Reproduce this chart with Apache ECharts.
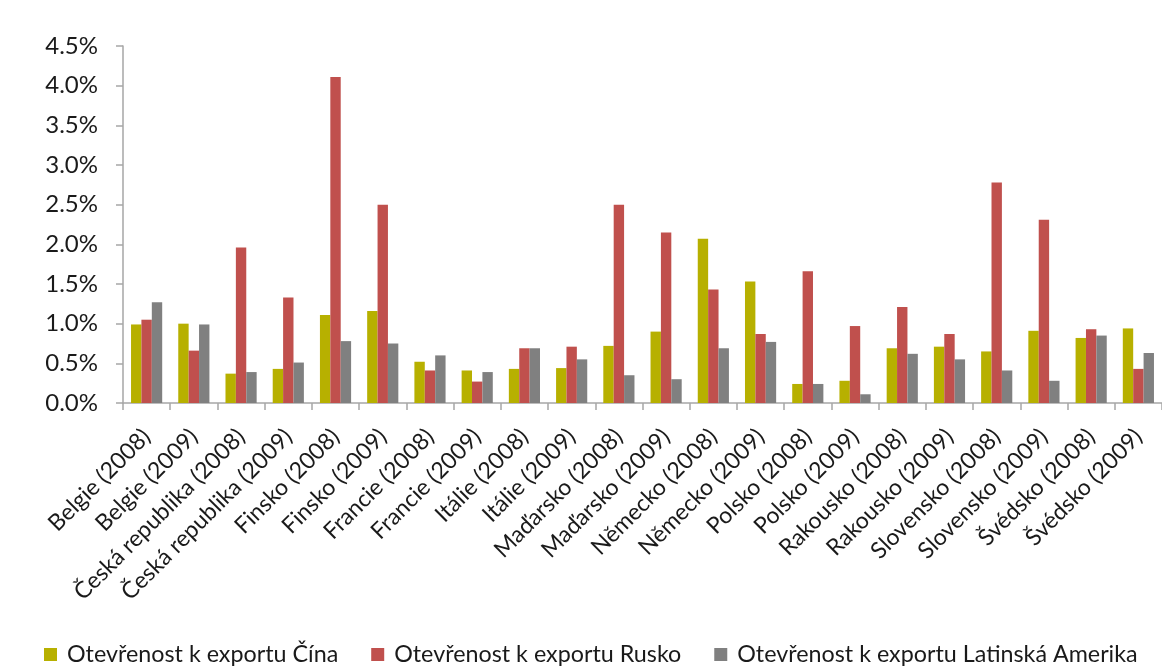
<!DOCTYPE html>
<html>
<head>
<meta charset="utf-8">
<script src="https://cdn.jsdelivr.net/npm/echarts@6/dist/echarts.min.js"></script>
<style>
  html, body { margin: 0; padding: 0; background: #ffffff; }
  #chart { width: 1162px; height: 670px; }
</style>
</head>
<body>
<div id="chart"></div>
<script>
// Export openness by country and year (percent)
const categories = [
  'Belgie (2008)', 'Belgie (2009)',
  'Česká republika (2008)', 'Česká republika (2009)',
  'Finsko (2008)', 'Finsko (2009)',
  'Francie (2008)', 'Francie (2009)',
  'Itálie (2008)', 'Itálie (2009)',
  'Maďarsko (2008)', 'Maďarsko (2009)',
  'Německo (2008)', 'Německo (2009)',
  'Polsko (2008)', 'Polsko (2009)',
  'Rakousko (2008)', 'Rakousko (2009)',
  'Slovensko (2008)', 'Slovensko (2009)',
  'Švédsko (2008)', 'Švédsko (2009)'
];

const seriesNames = [
  'Otevřenost k exportu Čína',
  'Otevřenost k exportu Rusko',
  'Otevřenost k exportu Latinská Amerika'
];

const chinaValues = [0.99, 1.00, 0.37, 0.43, 1.11, 1.16, 0.52, 0.41, 0.43, 0.44, 0.72,
                     0.90, 2.07, 1.53, 0.24, 0.28, 0.69, 0.71, 0.65, 0.91, 0.82, 0.94];
const russiaValues = [1.05, 0.66, 1.96, 1.33, 4.11, 2.50, 0.41, 0.27, 0.69, 0.71, 2.50,
                      2.15, 1.43, 0.87, 1.66, 0.97, 1.21, 0.87, 2.78, 2.31, 0.93, 0.43];
const latamValues = [1.27, 0.99, 0.39, 0.51, 0.78, 0.75, 0.60, 0.39, 0.69, 0.55, 0.35,
                     0.30, 0.69, 0.77, 0.24, 0.11, 0.62, 0.55, 0.41, 0.28, 0.85, 0.63];

const yTicks = { min: 0, max: 4.5, interval: 0.5 };

const colors = ['#B7B000', '#C0504D', '#808080'];
const fontFamily = 'Lato, "Open Sans", sans-serif';

const chart = echarts.init(document.getElementById('chart'), null, { renderer: 'canvas' });

const makeBar = (name, data, color) => ({
  name: name,
  type: 'bar',
  data: data,
  barGap: '0%',
  barCategoryGap: '34%',
  itemStyle: { color: color },
  emphasis: { disabled: true }
});

chart.setOption({
  animation: false,
  backgroundColor: '#ffffff',
  textStyle: { fontFamily: fontFamily },
  grid: { left: 123, top: 46, width: 1040, height: 357 },
  legend: {
    bottom: -1,
    left: 39,
    width: 1122,
    itemWidth: 13,
    itemHeight: 13,
    itemGap: 33,
    icon: 'rect',
    textStyle: { fontSize: 23.3, color: '#1a1a1a', fontFamily: fontFamily, padding: [0, 0, 0, 5] },
    data: seriesNames
  },
  xAxis: {
    type: 'category',
    data: categories,
    axisLine: { lineStyle: { color: '#a6a6a6', width: 1.5 } },
    axisTick: { show: true, length: 7, lineStyle: { color: '#a6a6a6', width: 1.5 } },
    axisLabel: {
      rotate: 45,
      interval: 0,
      margin: 30,
      fontSize: 23,
      color: '#1a1a1a',
      fontFamily: fontFamily
    }
  },
  yAxis: {
    type: 'value',
    min: yTicks.min,
    max: yTicks.max,
    interval: yTicks.interval,
    axisLine: { show: true, lineStyle: { color: '#a6a6a6', width: 1.5 } },
    axisTick: { show: true, length: 7, lineStyle: { color: '#a6a6a6', width: 1.5 } },
    splitLine: { show: false },
    axisLabel: {
      margin: 25,
      fontSize: 24,
      color: '#1a1a1a',
      fontFamily: fontFamily,
      formatter: v => v.toFixed(1) + '%'
    }
  },
  series: [
    makeBar(seriesNames[0], chinaValues, colors[0]),
    makeBar(seriesNames[1], russiaValues, colors[1]),
    makeBar(seriesNames[2], latamValues, colors[2])
  ]
});
</script>
</body>
</html>
